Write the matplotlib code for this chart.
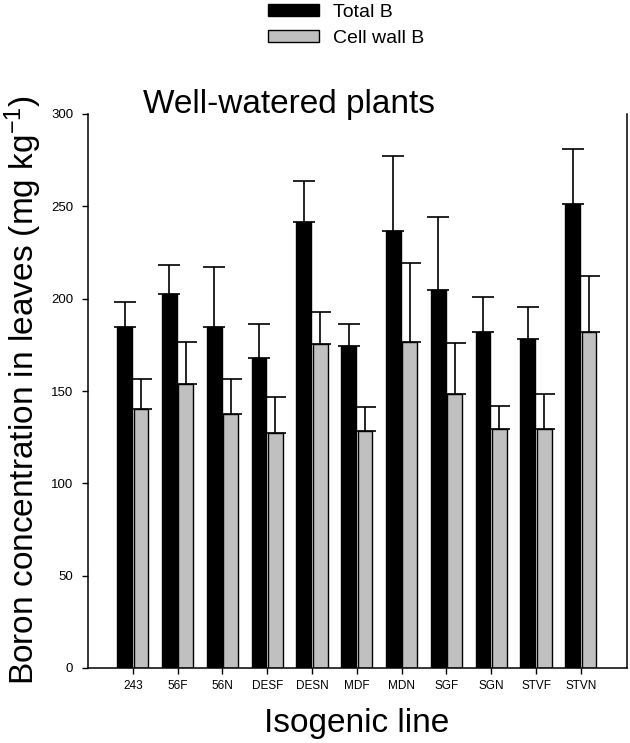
import matplotlib
matplotlib.use("Agg")
import matplotlib.pyplot as plt
import numpy as np
from matplotlib.patches import Rectangle

plt.rcParams['font.family'] = ['Liberation Sans', 'DejaVu Sans']
plt.rcParams['mathtext.default'] = 'regular'

lines = ["243", "56F", "56N", "DESF", "DESN", "MDF", "MDN", "SGF", "SGN", "STVF", "STVN"]
total_b = [184.8, 202.7, 184.8, 167.8, 241.6, 174.3, 236.6, 204.7, 181.9, 178.1, 251.5]
total_err = [13.2, 15.3, 32.5, 18.4, 22.3, 11.9, 40.6, 39.3, 19.0, 17.5, 29.3]
cell_b = [140.2, 153.6, 137.3, 127.0, 175.6, 128.3, 176.7, 148.3, 129.2, 129.2, 181.9]
cell_err = [16.4, 23.1, 19.3, 20.0, 17.1, 12.8, 42.7, 27.5, 12.6, 19.1, 30.3]
yticks = [0, 50, 100, 150, 200, 250, 300]
series_names = ["Total B", "Cell wall B"]
series_colors = ["black", "#c0c0c0"]

W, H = 630, 743
fig = plt.figure(figsize=(W / 100, H / 100), dpi=100)
ax = fig.add_axes([88 / W, 1 - 668 / H, (627 - 88) / W, (668 - 114) / H])

x = np.arange(len(lines))
bw = 0.33
off = 0.183
ekw = dict(elinewidth=1.2, capsize=8, capthick=1.2, ecolor='black')
ax.bar(x - off, total_b, bw, color=series_colors[0], edgecolor='black', linewidth=1.0, zorder=2)
ax.errorbar(x - off, total_b, yerr=[np.zeros(len(x)), total_err], fmt='none', zorder=1, **ekw)
ax.bar(x + off, cell_b, bw, color=series_colors[1], edgecolor='black', linewidth=1.0, zorder=2)
ax.errorbar(x + off, cell_b, yerr=[np.zeros(len(x)), cell_err], fmt='none', zorder=1, **ekw)

ax.set_xlim(-1.0, 11.03)
ax.set_ylim(0, 300)
ax.set_yticks(yticks)
ax.set_yticklabels([str(v) for v in yticks], fontsize=9.5)
ax.set_xticks(x)
ax.set_xticklabels(lines, fontsize=8.5)
ax.tick_params(axis='both', direction='out', length=4.3, width=1.0, color='black')
ax.tick_params(axis='x', pad=4)
ax.tick_params(axis='y', pad=6.3)
ax.spines['top'].set_visible(False)
for s in ['left', 'bottom', 'right']:
    ax.spines[s].set_linewidth(1.1)

fig.text(143 / W, 1 - 113 / H, "Well-watered plants", fontsize=24, ha='left', va='baseline')
fig.text(34.5 / W, 1 - 390 / H, "Boron concentration in leaves (mg kg$^{-1}$)",
         rotation=90, rotation_mode='anchor', fontsize=24, ha='center', va='baseline')
fig.text(356.5 / W, 1 - 732 / H, "Isogenic line", fontsize=24, ha='center', va='baseline')

# legend (drawn manually)
rows_y = [17, 43]
for name, col, yb in zip(series_names, series_colors, rows_y):
    fig.add_artist(Rectangle((268 / W, 1 - (yb - 1.5) / H), 51 / W, 11.5 / H,
                             transform=fig.transFigure, facecolor=col,
                             edgecolor='black', linewidth=1.0))
    fig.text(333 / W, 1 - yb / H, name, fontsize=14, ha='left', va='baseline')

fig.savefig("out.png", dpi=100)
